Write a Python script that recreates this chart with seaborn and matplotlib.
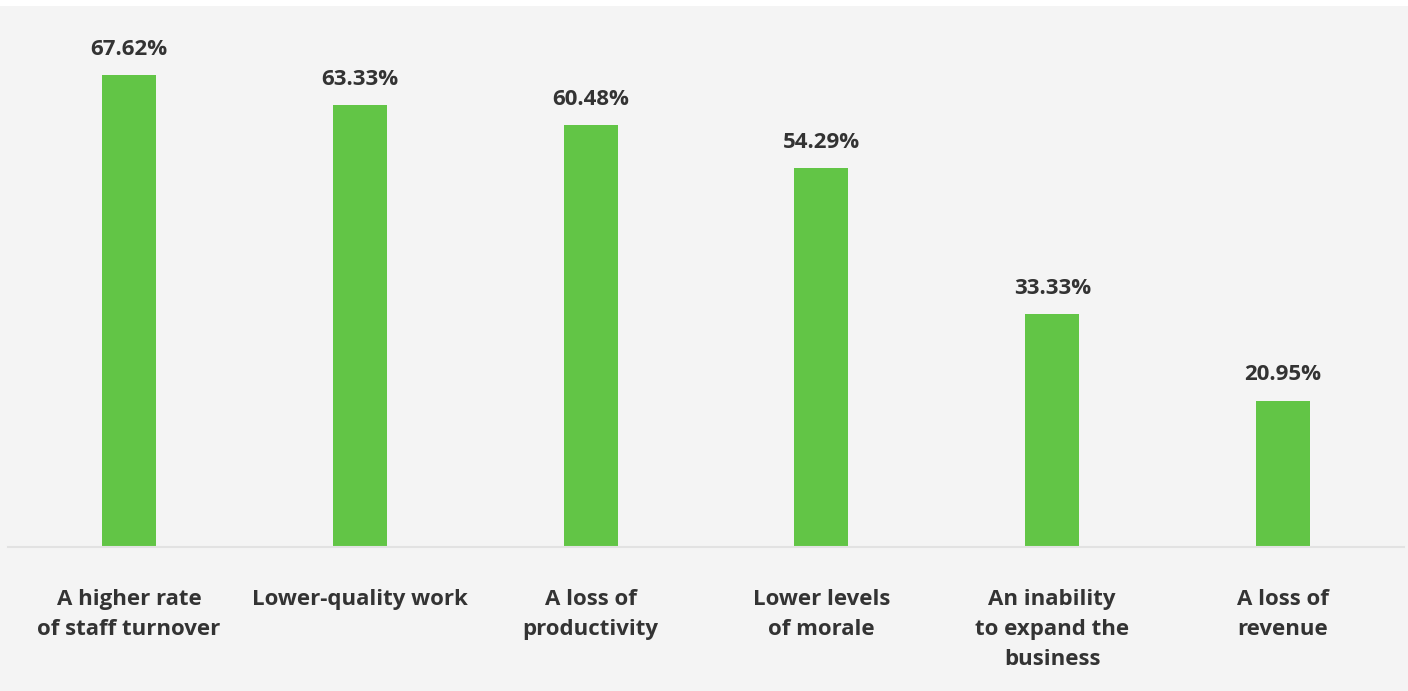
import matplotlib
matplotlib.use("Agg")
import matplotlib.pyplot as plt
import seaborn as sns
import pandas as pd
from matplotlib.patches import Rectangle

categories = ["A higher rate\nof staff turnover", "Lower-quality work", "A loss of\nproductivity",
              "Lower levels\nof morale", "An inability\nto expand the\nbusiness", "A loss of\nrevenue"]
values = [67.62, 63.33, 60.48, 54.29, 33.33, 20.95]
value_labels = ["67.62%", "63.33%", "60.48%", "54.29%", "33.33%", "20.95%"]

sns.set_theme(style="white")
plt.rcParams['font.family'] = ['Open Sans', 'DejaVu Sans']

W, H = 1408, 691
fig = plt.figure(figsize=(W / 100, H / 100), dpi=100, facecolor="white")
fig.patches.append(Rectangle((0, 0), 1, (H - 6) / H, transform=fig.transFigure,
                             facecolor="#f4f4f4", edgecolor="none", zorder=-10))
ax = fig.add_axes([8 / W, (H - 547) / H, 1396 / W, (547 - 6) / H])
ax.set_facecolor("none")

df = pd.DataFrame({"cat": categories, "val": values})
sns.barplot(data=df, x="cat", y="val", color="#62c546", saturation=1, width=0.234, ax=ax)
for p in ax.patches:
    p.set_edgecolor("none")

ax.bar_label(ax.containers[0], labels=value_labels, padding=11, fontsize=16,
             fontweight="bold", color="#333333")

ax.set_xlim(-0.524, 5.524)
ax.set_ylim(0, 77.5)
ax.set_xlabel("")
ax.set_ylabel("")
ax.set_yticks([])
for s in ["top", "right", "left"]:
    ax.spines[s].set_visible(False)
ax.spines["bottom"].set_color("#e2e2e2")
ax.spines["bottom"].set_linewidth(1.5)
ax.tick_params(axis="x", length=0, pad=30.5)
for t in ax.get_xticklabels():
    t.set_fontsize(16)
    t.set_fontweight("bold")
    t.set_color("#333333")
    t.set_linespacing(1.54)
    t.set_verticalalignment("top")

fig.savefig("out.png", dpi=100, facecolor=fig.get_facecolor())
